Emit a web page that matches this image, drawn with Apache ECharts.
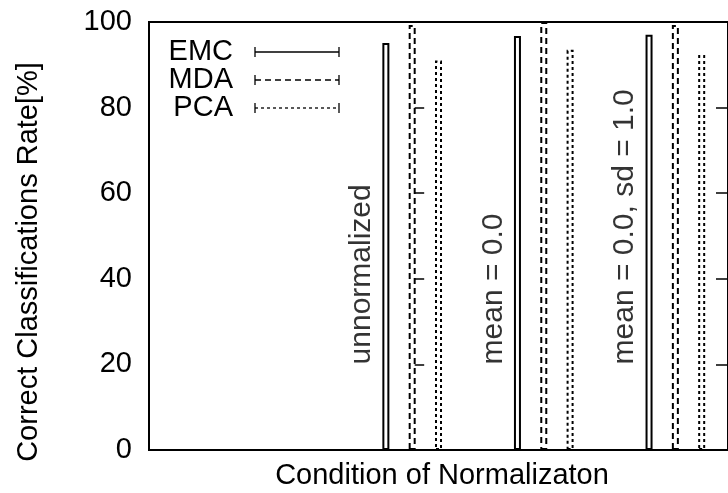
<!DOCTYPE html>
<html>
<head>
<meta charset="utf-8">
<script src="https://cdn.jsdelivr.net/npm/echarts@6/dist/echarts.min.js"></script>
<style>
  html, body { margin: 0; padding: 0; background: #fff; }
  #chart { width: 728px; height: 493px; }
</style>
</head>
<body>
<div id="chart"></div>
<script>
// Normalization conditions (one group of bars each)
const conditions = ['unnormalized', 'mean = 0.0', 'mean = 0.0, sd = 1.0'];
// Classifiers, drawn left to right within each group
const methods = ['EMC', 'MDA', 'PCA'];
// Correct classification rate [%] per condition
const emcRates = [95.1, 96.7, 97.0];
const mdaRates = [99.3, 100.0, 99.3];
const pcaRates = [91.0, 93.5, 92.3];
// Y axis ticks
const yTicks = [0, 20, 40, 60, 80, 100];
// Height at which the rotated condition captions start
const captionLevel = [20, 20, 20];

const FONT = '"Liberation Sans", Arial, Helvetica, sans-serif';
const FS = 29;
const rateSets = [emcRates, mdaRates, pcaRates];
const offsets = [-0.2, 0, 0.2];
const dashes = ['solid', [6, 4], [3, 3]];

const chart = echarts.init(document.getElementById('chart'), null, { renderer: 'canvas' });

const barSeries = methods.map((name, k) => ({
  name: name,
  type: 'bar',
  barWidth: 7,
  barGap: '-100%',
  data: rateSets[k].map((v, i) => [i + offsets[k], v]),
  itemStyle: {
    color: '#ffffff',
    borderColor: '#000000',
    borderWidth: 2,
    borderType: dashes[k]
  },
  emphasis: { disabled: true },
  animation: false
}));

const captionSeries = {
  type: 'scatter',
  symbolSize: 0,
  data: conditions.map((c, i) => [i - 0.27, captionLevel[i]]),
  label: {
    show: true,
    position: [0, 0],
    rotate: 90,
    align: 'left',
    verticalAlign: 'bottom',
    formatter: p => conditions[p.dataIndex],
    fontFamily: FONT,
    fontSize: 30,
    color: '#000'
  },
  silent: true,
  animation: false
};

const graphics = [];
// Legend: caption on the left, line sample with end caps on the right
methods.forEach((name, k) => {
  const y = 52 + 28 * k;
  graphics.push({
    type: 'text', x: 233, y: y,
    style: { text: name, font: FS + 'px ' + FONT, fill: '#000', align: 'right', verticalAlign: 'middle' }
  });
  const lineStyle = { stroke: '#000', lineWidth: 1.3, lineDash: dashes[k] === 'solid' ? null : dashes[k] };
  graphics.push({ type: 'line', shape: { x1: 255, y1: y, x2: 339, y2: y }, style: lineStyle });
  graphics.push({ type: 'line', shape: { x1: 255, y1: y - 5, x2: 255, y2: y + 5 }, style: { stroke: '#000', lineWidth: 1.3 } });
  graphics.push({ type: 'line', shape: { x1: 339, y1: y - 5, x2: 339, y2: y + 5 }, style: { stroke: '#000', lineWidth: 1.3 } });
});
// Axis titles
graphics.push({
  type: 'text', x: 29, y: 262, rotation: Math.PI / 2,
  style: { text: 'Correct Classifications Rate[%]', font: FS + 'px ' + FONT, fill: '#000', align: 'center', verticalAlign: 'middle' }
});
graphics.push({
  type: 'text', x: 442, y: 476,
  style: { text: 'Condition of Normalizaton', font: FS + 'px ' + FONT, fill: '#000', align: 'center', verticalAlign: 'middle' }
});

const yAxisCommon = {
  type: 'value',
  min: yTicks[0],
  max: yTicks[yTicks.length - 1],
  interval: yTicks[1] - yTicks[0],
  axisLine: { show: false },
  axisTick: { show: true, inside: true, length: 12, lineStyle: { color: '#000', width: 1.5 } },
  splitLine: { show: false }
};

chart.setOption({
  backgroundColor: '#ffffff',
  animation: false,
  grid: {
    left: 149, top: 22, height: 428, width: 586,
    show: true, borderColor: '#000', borderWidth: 2, backgroundColor: 'transparent'
  },
  xAxis: {
    type: 'value',
    min: -2,
    max: 2.4,
    axisLine: { show: false },
    axisTick: { show: false },
    axisLabel: { show: false },
    splitLine: { show: false }
  },
  yAxis: [
    Object.assign({}, yAxisCommon, {
      position: 'left',
      axisLabel: { show: true, margin: 17, fontFamily: FONT, fontSize: FS, color: '#000' }
    }),
    Object.assign({}, yAxisCommon, {
      position: 'right',
      axisLabel: { show: false }
    })
  ],
  series: barSeries.concat([captionSeries]),
  graphic: graphics
});
</script>
</body>
</html>
